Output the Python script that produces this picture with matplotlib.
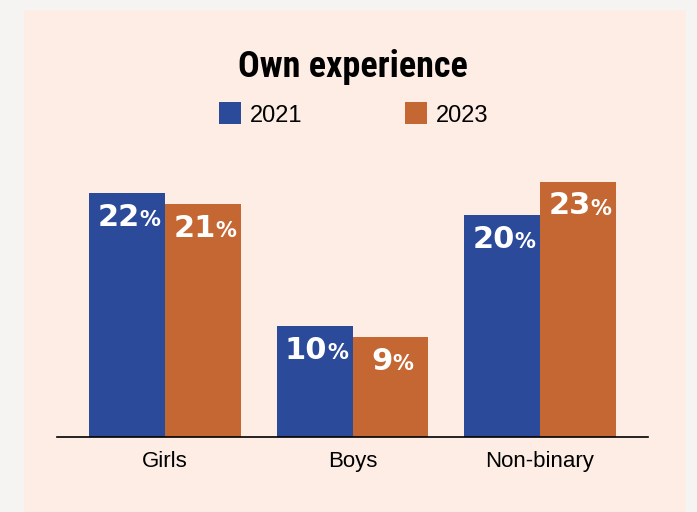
import matplotlib.pyplot as plt
import matplotlib.patches as mpatches
from matplotlib import font_manager

# data
groups = ['Girls', 'Boys', 'Non-binary']
years = ['2021', '2023']
vals_2021 = [22, 10, 20]
vals_2023 = [21, 9, 23]

blue = '#2b4a9a'
orange = '#c46733'
panel = '#fdede5'

names = sorted({f.name for f in font_manager.fontManager.ttflist})
narrow = [n for n in ['Liberation Sans Narrow', 'DejaVu Sans Condensed', 'Roboto Condensed']
          if n in names]
fam = narrow + ['Liberation Sans', 'DejaVu Sans']
arial = ['Liberation Sans', 'DejaVu Sans']

fig = plt.figure(figsize=(6.97, 5.12), dpi=100)
fig.patch.set_facecolor('#f6f4f2')

# pinkish panel behind everything
bg = mpatches.Rectangle((24/697, 0), (686-24)/697, 1-10/512, transform=fig.transFigure,
                        facecolor=panel, edgecolor='none', zorder=-5)
fig.patches.append(bg)

# axes: x from 57 to 648 px, bottom at y=437 px, 11.1 px per percent
ax = fig.add_axes([57/697, (512-437)/512, (648-57)/697, 25*11.1/512])
ax.set_facecolor('none')
ax.set_xlim(-0.576, 2.576)
ax.set_ylim(0, 25)

w = 0.405
x = range(len(groups))
b1 = ax.bar([i - w/2 for i in x], vals_2021, w, color=blue, zorder=2)
b2 = ax.bar([i + w/2 for i in x], vals_2023, w, color=orange, zorder=2)

for bars, vals in [(b1, vals_2021), (b2, vals_2023)]:
    for bar, v in zip(bars, vals):
        cx = bar.get_x() + bar.get_width()/2
        t = ax.text(cx - 0.045, v - 2.95, str(v), ha='center', va='baseline',
                    color='white', fontsize=22, fontweight='bold', zorder=3)
        ax.annotate('%', xy=(1, 0.06), xycoords=t, xytext=(0, 0), textcoords='offset points',
                    ha='left', va='bottom',
                    color='white', fontsize=15, fontweight='bold', zorder=3)

for s in ['top', 'right', 'left']:
    ax.spines[s].set_visible(False)
ax.spines['bottom'].set_linewidth(1.2)
ax.set_yticks([])
ax.set_xticks(list(x))
ax.set_xticklabels(groups, fontsize=16, family=arial)
ax.tick_params(axis='x', length=0, pad=10)

# title
fig.text(353/697, 1 - 67/512, 'Own experience', ha='center', va='center',
         fontsize=26 if narrow else 20, fontweight='heavy', family=fam)

# legend
for lx, col, lab in [(219, blue, years[0]), (405, orange, years[1])]:
    fig.patches.append(mpatches.Rectangle((lx/697, 1 - 124/512), 22/697, 22/512,
                                          transform=fig.transFigure, facecolor=col,
                                          edgecolor='none', zorder=2))
    fig.text((lx + 31)/697, 1 - 116/512, lab, ha='left', va='center', fontsize=17,
             family=arial)

fig.savefig('out.png', dpi=100, facecolor=fig.get_facecolor())
